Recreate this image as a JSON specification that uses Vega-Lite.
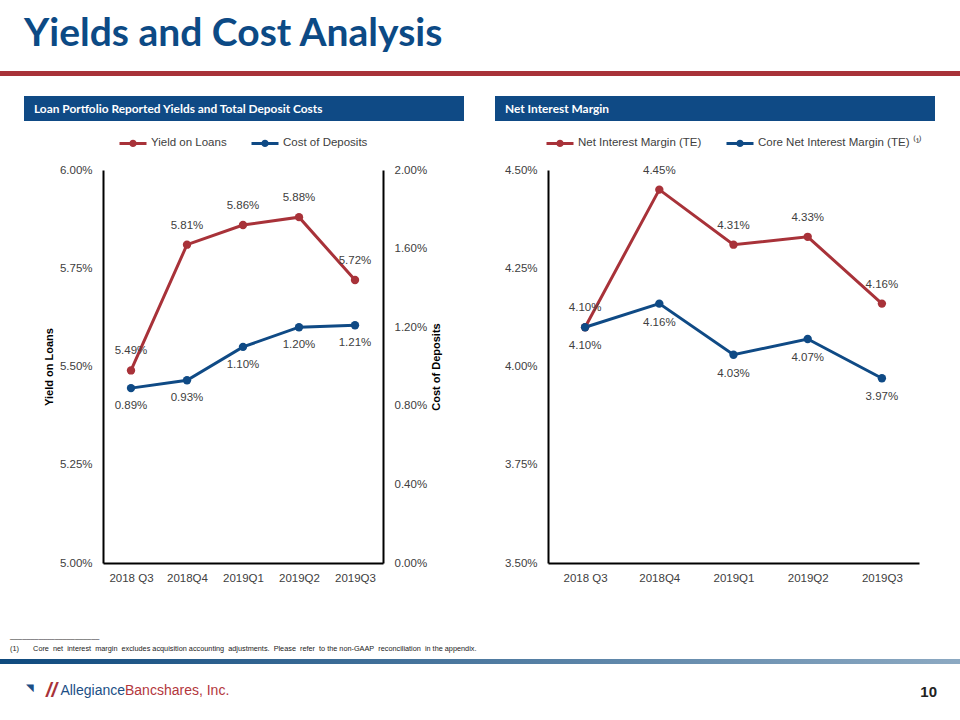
{
  "$schema": "https://vega.github.io/schema/vega-lite/v6.json",
  "background": "white",
  "padding": {"top": 15, "left": 0, "right": 0, "bottom": 0},
  "title": {"text": "Yields and Cost Analysis", "anchor": "start", "dx": 24, "offset": 17, "fontSize": 39, "font": "Lato", "fontWeight": "bold", "color": "#0c4a85"},
  "datasets": {
    "left": [
      {"q": "2018 Q3", "series": "Yield on Loans", "value": 0.0549},
      {"q": "2018Q4", "series": "Yield on Loans", "value": 0.0581},
      {"q": "2019Q1", "series": "Yield on Loans", "value": 0.0586},
      {"q": "2019Q2", "series": "Yield on Loans", "value": 0.0588},
      {"q": "2019Q3", "series": "Yield on Loans", "value": 0.0572},
      {"q": "2018 Q3", "series": "Cost of Deposits", "value": 0.0089},
      {"q": "2018Q4", "series": "Cost of Deposits", "value": 0.0093},
      {"q": "2019Q1", "series": "Cost of Deposits", "value": 0.0110},
      {"q": "2019Q2", "series": "Cost of Deposits", "value": 0.0120},
      {"q": "2019Q3", "series": "Cost of Deposits", "value": 0.0121}
    ],
    "right": [
      {"q": "2018 Q3", "series": "Net Interest Margin (TE)", "value": 0.0410},
      {"q": "2018Q4", "series": "Net Interest Margin (TE)", "value": 0.0445},
      {"q": "2019Q1", "series": "Net Interest Margin (TE)", "value": 0.0431},
      {"q": "2019Q2", "series": "Net Interest Margin (TE)", "value": 0.0433},
      {"q": "2019Q3", "series": "Net Interest Margin (TE)", "value": 0.0416},
      {"q": "2018 Q3", "series": "Core Net Interest Margin (TE)", "value": 0.0410},
      {"q": "2018Q4", "series": "Core Net Interest Margin (TE)", "value": 0.0416},
      {"q": "2019Q1", "series": "Core Net Interest Margin (TE)", "value": 0.0403},
      {"q": "2019Q2", "series": "Core Net Interest Margin (TE)", "value": 0.0407},
      {"q": "2019Q3", "series": "Core Net Interest Margin (TE)", "value": 0.0397}
    ],
    "empty": []
  },
  "spacing": 0,
  "resolve": {"scale": {"color": "independent"}, "legend": {"color": "independent"}},
  "vconcat": [
    {"width": 960, "height": 5, "data": {"values": [{}]}, "mark": {"type": "rect", "color": "#a83239"}, "encoding": {}, "view": {"fill": "#a83239", "stroke": null}},
    {"width": 960, "height": 20, "data": {"name": "empty"}, "mark": "point", "view": {"stroke": null}},
    {
      "spacing": 0,
      "hconcat": [
        {"width": 24, "height": 1, "data": {"name": "empty"}, "mark": "point", "view": {"stroke": null}},
        {"width": 440, "height": 25, "data": {"name": "empty"}, "mark": "point", "view": {"fill": "#0f4a85", "stroke": null},
         "title": {"text": "Loan Portfolio Reported Yields and Total Deposit Costs", "orient": "bottom", "anchor": "start", "baseline": "alphabetic", "offset": -8, "dx": 10, "color": "white", "fontSize": 11.9, "font": "Lato", "fontWeight": "bold"}},
        {"width": 31, "height": 1, "data": {"name": "empty"}, "mark": "point", "view": {"stroke": null}},
        {"width": 440, "height": 25, "data": {"name": "empty"}, "mark": "point", "view": {"fill": "#0f4a85", "stroke": null},
         "title": {"text": "Net Interest Margin", "orient": "bottom", "anchor": "start", "baseline": "alphabetic", "offset": -8, "dx": 10, "color": "white", "fontSize": 11.9, "font": "Lato", "fontWeight": "bold"}}
      ]
    },
    {"width": 960, "height": 7, "data": {"name": "empty"}, "mark": "point", "view": {"stroke": null}},
    {
      "spacing": 0,
      "resolve": {"scale": {"color": "independent"}, "legend": {"color": "independent"}},
      "hconcat": [
        {"width": 43, "height": 1, "data": {"name": "empty"}, "mark": "point", "view": {"stroke": null}},
        {
          "width": 280, "height": 393,
          "data": {"name": "left"},
          "encoding": {
            "x": {"field": "q", "type": "ordinal", "sort": null, "scale": {"type": "point", "padding": 0.5}, "axis": {"title": null, "labelAngle": 0, "labelPadding": 9}}
          },
          "layer": [
            {
              "transform": [{"filter": "datum.series === 'Yield on Loans'"}],
              "encoding": {"y": {"field": "value", "type": "quantitative", "scale": {"domain": [0.05, 0.06], "zero": false, "nice": false}, "axis": {"title": "Yield on Loans", "values": [0.05, 0.0525, 0.055, 0.0575, 0.06], "format": ".2%", "labelPadding": 11, "titlePadding": 5}}},
              "layer": [
                {"mark": {"type": "line", "strokeWidth": 3, "point": {"filled": true, "size": 70}},
                 "encoding": {"color": {"field": "series", "type": "nominal", "scale": {"domain": ["Yield on Loans", "Cost of Deposits"], "range": ["#a83239", "#0f4a85"]},
                   "legend": {"orient": "top", "title": null, "direction": "horizontal", "symbolType": "M-1,0L1,0M-0.16,0A0.16,0.16,0,1,1,0.16,0A0.16,0.16,0,1,1,-0.16,0Z", "symbolSize": 729, "symbolStrokeWidth": 3, "labelFontSize": 11.5, "labelColor": "#404040", "columnPadding": 18, "labelOffset": 3, "offset": 18, "padding": 0}}}},
                {"mark": {"type": "text", "dy": -19, "fontSize": 11.5, "color": "#404040"}, "encoding": {"text": {"field": "value", "type": "quantitative", "format": ".2%"}}}
              ]
            },
            {
              "transform": [{"filter": "datum.series === 'Cost of Deposits'"}],
              "encoding": {"y": {"field": "value", "type": "quantitative", "scale": {"domain": [0, 0.02], "nice": false}, "axis": {"orient": "right", "title": "Cost of Deposits", "titleAngle": 270, "titleBaseline": "top", "values": [0, 0.004, 0.008, 0.012, 0.016, 0.02], "format": ".2%", "labelPadding": 11, "titlePadding": 4}}},
              "layer": [
                {"mark": {"type": "line", "strokeWidth": 3, "point": {"filled": true, "size": 70}},
                 "encoding": {"color": {"field": "series", "type": "nominal", "scale": {"domain": ["Yield on Loans", "Cost of Deposits"], "range": ["#a83239", "#0f4a85"]},
                   "legend": {"orient": "top", "title": null, "direction": "horizontal", "symbolType": "M-1,0L1,0M-0.16,0A0.16,0.16,0,1,1,0.16,0A0.16,0.16,0,1,1,-0.16,0Z", "symbolSize": 729, "symbolStrokeWidth": 3, "labelFontSize": 11.5, "labelColor": "#404040", "columnPadding": 18, "labelOffset": 3, "offset": 18, "padding": 0}}}},
                {"mark": {"type": "text", "dy": 18, "fontSize": 11.5, "color": "#404040"}, "encoding": {"text": {"field": "value", "type": "quantitative", "format": ".2%"}}}
              ]
            }
          ],
          "resolve": {"scale": {"y": "independent"}}
        },
        {"width": 62, "height": 1, "data": {"name": "empty"}, "mark": "point", "view": {"stroke": null}},
        {
          "width": 371, "height": 393,
          "data": {"name": "right"},
          "encoding": {
            "x": {"field": "q", "type": "ordinal", "sort": null, "scale": {"type": "point", "padding": 0.5}, "axis": {"title": null, "labelAngle": 0, "labelPadding": 9}},
            "y": {"field": "value", "type": "quantitative", "scale": {"domain": [0.035, 0.045], "zero": false, "nice": false}, "axis": {"title": null, "values": [0.035, 0.0375, 0.04, 0.0425, 0.045], "format": ".2%", "labelPadding": 11}}
          },
          "layer": [
            {"mark": {"type": "line", "strokeWidth": 3, "point": {"filled": true, "size": 70}},
             "encoding": {"color": {"field": "series", "type": "nominal", "scale": {"domain": ["Net Interest Margin (TE)", "Core Net Interest Margin (TE)"], "range": ["#a83239", "#0f4a85"]},
               "legend": {"orient": "top", "title": null, "direction": "horizontal", "symbolType": "M-1,0L1,0M-0.16,0A0.16,0.16,0,1,1,0.16,0A0.16,0.16,0,1,1,-0.16,0Z", "symbolSize": 729, "symbolStrokeWidth": 3, "labelFontSize": 11.5, "labelColor": "#404040", "columnPadding": 18, "labelOffset": 3, "offset": 18, "padding": 0, "labelLimit": 300,
                 "labelExpr": "datum.label === 'Core Net Interest Margin (TE)' ? datum.label + ' ⁽¹⁾' : datum.label"}}}},
            {"transform": [{"filter": "datum.series === 'Net Interest Margin (TE)'"}], "mark": {"type": "text", "dy": -19, "fontSize": 11.5, "color": "#404040"}, "encoding": {"text": {"field": "value", "type": "quantitative", "format": ".2%"}}},
            {"transform": [{"filter": "datum.series === 'Core Net Interest Margin (TE)'"}], "mark": {"type": "text", "dy": 19, "fontSize": 11.5, "color": "#404040"}, "encoding": {"text": {"field": "value", "type": "quantitative", "format": ".2%"}}}
          ]
        }
      ]
    },
    {"width": 960, "height": 47, "data": {"name": "empty"}, "mark": "point", "view": {"stroke": null}},
    {"width": 960, "height": 1, "data": {"name": "empty"}, "mark": "point", "view": {"stroke": null},
     "title": {"text": ["______________________", "(1)\u00a0\u00a0\u00a0\u00a0\u00a0\u00a0\u00a0Core\u00a0 net\u00a0 interest\u00a0 margin\u00a0 excludes acquisition accounting\u00a0 adjustments.\u00a0 Please\u00a0 refer\u00a0 to the non-GAAP\u00a0 reconciliation\u00a0 in the appendix."], "orient": "bottom", "anchor": "start", "dx": 10, "offset": 0, "fontSize": 7.3, "lineHeight": 13, "font": "Liberation Sans", "fontWeight": "normal", "color": "#222222"}},
    {"width": 960, "height": 6, "data": {"name": "empty"}, "mark": "point", "view": {"stroke": null}},
    {"width": 960, "height": 5, "data": {"values": [{}]}, "mark": {"type": "rect", "color": {"gradient": "linear", "x1": 0, "x2": 1, "y1": 0, "y2": 0, "stops": [{"offset": 0, "color": "#0f4a7e"}, {"offset": 1, "color": "#8ca9c2"}]}}, "encoding": {}, "view": {"stroke": null}},
    {
      "spacing": 0,
      "hconcat": [
        {"width": 34, "height": 1, "data": {"name": "empty"}, "mark": "point", "view": {"stroke": null},
         "title": {"text": "◥", "orient": "bottom", "anchor": "end", "baseline": "alphabetic", "offset": 26, "fontSize": 10, "color": "#1b4f86", "fontWeight": "normal"}},
        {"width": 23, "height": 1, "data": {"name": "empty"}, "mark": "point", "view": {"stroke": null},
         "title": {"text": "//", "orient": "bottom", "anchor": "end", "baseline": "alphabetic", "offset": 32, "fontSize": 20, "fontStyle": "italic", "color": "#a83239", "fontWeight": "bold"}},
        {"width": 68, "height": 1, "data": {"name": "empty"}, "mark": "point", "view": {"stroke": null},
         "title": {"text": "Allegiance", "orient": "bottom", "anchor": "end", "baseline": "alphabetic", "offset": 30, "fontSize": 14, "color": "#1b4f86", "fontWeight": "normal"}},
        {"width": 400, "height": 1, "data": {"name": "empty"}, "mark": "point", "view": {"stroke": null},
         "title": {"text": "Bancshares, Inc.", "orient": "bottom", "anchor": "start", "baseline": "alphabetic", "offset": 30, "fontSize": 14, "color": "#b3363c", "fontWeight": "normal"}},
        {"width": 435, "height": 1, "data": {"name": "empty"}, "mark": "point", "view": {"stroke": null},
         "title": {"text": "10", "orient": "bottom", "anchor": "end", "baseline": "alphabetic", "dx": -23, "offset": 32, "fontSize": 15, "color": "#222222", "fontWeight": "bold"}}
      ]
    }
  ],
  "config": {
    "font": "Liberation Sans",
    "view": {"stroke": null},
    "legend": {"layout": {"top": {"anchor": "middle"}}},
    "axis": {"grid": false, "ticks": false, "domainColor": "#000000", "domainWidth": 2, "labelColor": "#404040", "labelFontSize": 11.5, "labelFont": "Liberation Sans", "titleFont": "Liberation Sans", "titleFontSize": 11, "titleFontWeight": "bold", "titleColor": "#000000"}
  }
}
